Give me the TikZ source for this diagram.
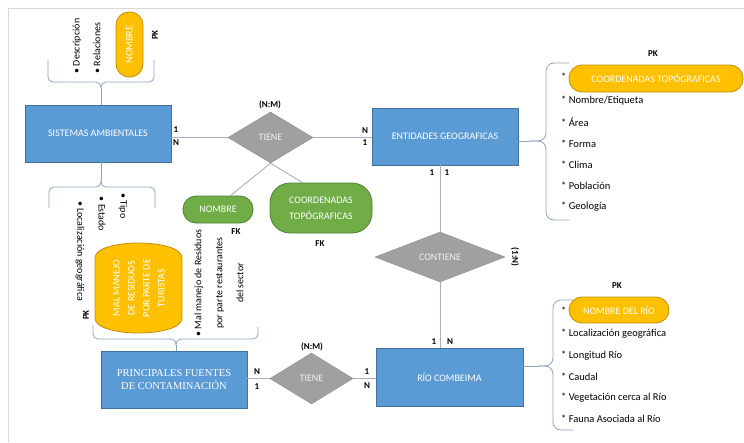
\documentclass[tikz,border=0pt]{standalone}
\usepackage{fontspec}
\setmainfont{Carlito}
\newfontfamily\serifrm{Liberation Serif}
\usepackage{tikz}
\usetikzlibrary{calc}
\usetikzlibrary{shapes.geometric}

\definecolor{entblue}{HTML}{5B9BD5}
\definecolor{entline}{HTML}{41719C}
\definecolor{relgray}{HTML}{A0A0A0}
\definecolor{relline}{HTML}{8C8C8C}
\definecolor{keyyellow}{HTML}{FFC000}
\definecolor{keyline}{HTML}{BF9000}
\definecolor{fkgreen}{HTML}{70AD47}
\definecolor{fkline}{HTML}{507E32}
\definecolor{linkgray}{HTML}{A7B0BC}
\definecolor{bracecol}{HTML}{8FA2BE}
\definecolor{framegray}{HTML}{D9D9D9}

\begin{document}
\begin{tikzpicture}[x=1pt,y=-1pt,
  entity/.style={draw=entline,fill=entblue,text=white,line width=0.8pt,
    minimum width=146pt,minimum height=57pt,inner sep=0pt,align=center,
    font=\fontsize{10}{12}\selectfont},
  relation/.style={diamond,draw=relline,fill=relgray,text=white!95!black,
    inner sep=0pt,font=\fontsize{10}{12}\selectfont},
  keypill/.style={draw=keyline,fill=keyyellow,text=white,line width=0.8pt,
    rounded corners=13pt,inner sep=0pt,font=\fontsize{10}{12}\selectfont},
  fkpill/.style={draw=fkline,fill=fkgreen,text=white,line width=0.8pt,
    inner sep=0pt,align=center,font=\fontsize{10}{16}\selectfont},
  card/.style={inner sep=0pt,font=\bfseries\fontsize{9}{10}\selectfont},
  attr/.style={inner sep=0pt,anchor=west,font=\fontsize{10.5}{12}\selectfont},
  side/.style={inner sep=0pt,font=\fontsize{10}{12}\selectfont},
  link/.style={draw=linkgray,line width=0.9pt},
  bracket/.style={draw=bracecol,line width=0.8pt,rounded corners=5pt}]
  % Constants
  \pgfmathsetmacro\rowsep{21.2}
  \pgfmathsetmacro\geotop{101}
  \pgfmathsetmacro\riotop{334}
  % Boundary
  \useasboundingbox (0,0) rectangle (744,442);
  \draw[framegray,line width=1.5pt] (8.5,442) -- (8.5,8.5) -- (744,8.5);

  % Entities
  \node[entity] (sistemas) at (98,133.5) {SISTEMAS AMBIENTALES};
  \node[entity] (entidades) at (445,136.5) {ENTIDADES GEOGRAFICAS};
  \node[entity,font=\serifrm\fontsize{10.5}{13}\selectfont] (fuentes) at (174,379.5)
    {PRINCIPALES FUENTES\\DE CONTAMINACIÓN};
  \node[entity,minimum width=147pt,minimum height=58pt] (rio) at (449.5,377) {RÍO COMBEIMA};

  % Relations
  \node[relation,minimum width=85pt,minimum height=51pt] (tieneA) at (270.5,137.5) {TIENE};
  \node[relation,minimum width=83pt,minimum height=51pt] (tieneB) at (311.5,378.5) {TIENE};
  \node[relation,minimum width=130pt,minimum height=50pt] (contiene) at (440,257) {CONTIENE};
  \node[card] (nmA) at (270,105) {(N:M)};
  \node[card] (nmB) at (312,347) {(N:M)};
  \node[card,rotate=-90] (unoN) at (515,257) {(1:N)};

  % Foreign keys
  \node[fkpill,rounded corners=13pt,minimum width=70pt,minimum height=27pt] (nombreFK) at (218,209.5) {NOMBRE};
  \node[fkpill,rounded corners=20pt,minimum width=102pt,minimum height=50pt] (coordFK) at (321,208)
    {COORDENADAS\\TOPÓGRAFICAS};
  \node[card] (fkA) at (236,232) {FK};
  \node[card] (fkB) at (320,244) {FK};

  % Connectors
  \draw[link] (tieneA.west) -- (tieneA.west -| sistemas.east);
  \draw[link] (tieneA.east) -- (tieneA.east -| entidades.west);
  \draw[link] (tieneA.south) -- (nombreFK.48);
  \draw[link] (tieneA.south) -- (coordFK.126);
  \draw[link] (contiene.north) -- (contiene.north |- entidades.south);
  \draw[link] (contiene.south) -- (contiene.south |- rio.north);
  \draw[link] (tieneB.west) -- (tieneB.west -| fuentes.east);
  \draw[link] (tieneB.east) -- (tieneB.east -| rio.west);

  % Cardinalities
  \node[card] (cA1) at (176,130) {1};
  \node[card] (cA2) at (176,143) {N};
  \node[card] (cA3) at (365,131) {N};
  \node[card] (cA4) at (365,143) {1};
  \node[card] (cC1) at (432,173) {1};
  \node[card] (cC2) at (447,173) {1};
  \node[card] (cC3) at (434,342) {1};
  \node[card] (cC4) at (450,342) {N};
  \node[card] (cB1) at (257,372) {N};
  \node[card] (cB2) at (257,387) {1};
  \node[card] (cB3) at (367,372) {1};
  \node[card] (cB4) at (367,386) {N};

  % Sistemas ambientales attributes
  \coordinate (braceA) at (101,88);
  \draw[bracket] (48,60) -- (48,82) -- (101,82) -- (braceA);
  \draw[bracket] (154,60) -- (154,82) -- (101,82) -- (braceA);
  \draw[bracket] (braceA) -- (braceA |- sistemas.north);
  \node[side,rotate=90] (descripcion) at (77,46) {\textbullet\ Descripción};
  \node[side,rotate=90] (relaciones) at (97,48) {\textbullet\ Relaciones};
  \node[keypill,rotate=90,minimum width=65pt,minimum height=27pt] (nombrePK) at (129.5,44.5) {NOMBRE};
  \node[card,rotate=90] (pkA) at (155,35) {PK};

  \coordinate (braceB) at (101,180);
  \draw[bracket] (49,208) -- (49,187) -- (101,187) -- (braceB);
  \draw[bracket] (155,208) -- (155,187) -- (101,187) -- (braceB);
  \draw[bracket] (braceB) -- (braceB |- sistemas.south);
  \node[side,rotate=-90] (localizacion) at (80,251) {\textbullet\ Localización geográfica};
  \node[side,rotate=-90] (estado) at (102,214) {\textbullet\ Estado};
  \node[side,rotate=-90] (tipo) at (123,206) {\textbullet\ Tipo};

  % Fuentes de contaminacion attributes
  \draw[draw=keyline,fill=keyyellow,line width=0.8pt] (95,258) .. controls (95,238) and (182,238) .. (182,258)
    -- (182,318) .. controls (182,338) and (95,338) .. (95,318) -- cycle;
  \node[side,rotate=90,text=white,align=center,font=\fontsize{10}{15}\selectfont] (manejo) at (139,288)
    {MAL MANEJO\\DE RESIDUOS\\POR PARTE DE\\TURISTAS};
  \node[card,rotate=90] (pkB) at (86,315) {PK};
  \node[side,rotate=90,align=center,font=\fontsize{10}{21}\selectfont] (residuos) at (219,283)
    {\textbullet\ Mal manejo de Residuos\\por parte restaurantes\\del sector};
  \coordinate (braceC) at (176,345);
  \draw[bracket] (93,325) -- (93,339) -- (176,339) -- (braceC);
  \draw[bracket] (258,327) -- (258,339) -- (176,339) -- (braceC);
  \draw[bracket] (braceC) -- (braceC |- fuentes.north);

  % Entidades geograficas attributes
  \coordinate (braceD) at (530,141);
  \draw[bracket,rounded corners=8pt] (569,63) -- (546,63) -- (546,141) -- (braceD);
  \draw[bracket,rounded corners=8pt] (569,220) -- (546,220) -- (546,141) -- (braceD);
  \draw[bracket] (braceD) -- (braceD -| entidades.east);
  \node[card] (pkC) at (653,54) {PK};
  \node[attr] (geo0) at (561,77) {*};
  \node[keypill,minimum width=174pt,minimum height=27pt] (coordPK) at (656,78.5) {COORDENADAS TOPÓGRAFICAS};
  \foreach \lbl [count=\i from 0] in {{Nombre/Etiqueta},Área,Forma,Clima,Población,Geología}
    \node[attr] (geo\i) at (561,{\geotop+\rowsep*\i}) {* \lbl};

  % Rio Combeima attributes
  \coordinate (braceE) at (538,366);
  \draw[bracket,rounded corners=8pt] (573,300) -- (553,300) -- (553,366) -- (braceE);
  \draw[bracket,rounded corners=8pt] (573,430) -- (553,430) -- (553,366) -- (braceE);
  \draw[bracket] (braceE) -- (braceE -| rio.east);
  \node[card] (pkD) at (617,286) {PK};
  \node[attr] (rioA) at (561,311) {*};
  \node[keypill,minimum width=100pt,minimum height=26pt] (nombreRio) at (619,310) {NOMBRE DEL RÍO};
  \foreach \lbl [count=\i from 0] in {Localización geográfica,Longitud Río,Caudal,Vegetación cerca al Río,Fauna Asociada al Río}
    \node[attr] (rio\i) at (561,{\riotop+\rowsep*\i}) {* \lbl};
\end{tikzpicture}
\end{document}
